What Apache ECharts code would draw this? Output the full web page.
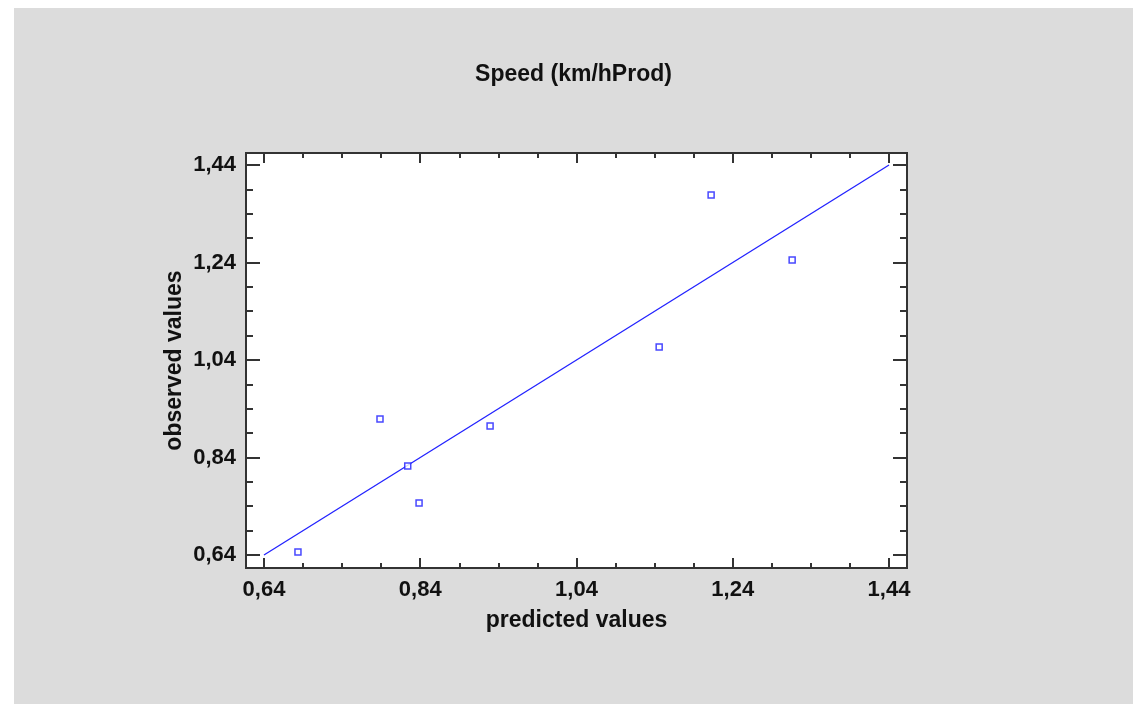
<!DOCTYPE html>
<html>
<head>
<meta charset="utf-8">
<script src="https://cdn.jsdelivr.net/npm/echarts@6/dist/echarts.min.js"></script>
<style>
  html, body {
    margin: 0;
    padding: 0;
    background: #fff;
  }
  #main {
    position: absolute;
    left: 14px;
    top: 8px;
    width: 1119px;
    height: 696px;
    background: #dcdcdc;
  }
</style>
</head>
<body>
<div id="main"></div>
<script>
// values
var predicted = [0.6835, 0.7885, 0.824, 0.8385, 0.9294, 1.1458, 1.2123, 1.316];
var observed = [0.646, 0.919, 0.8226, 0.7467, 0.9046, 1.0667, 1.3785, 1.2451];

// fitted line (observed = predicted)
var lineX = [0.64, 1.44];
var lineY = [0.64, 1.44];

var majorTicks = [0.64, 0.84, 1.04, 1.24, 1.44];
var minorTicks = [0.69, 0.74, 0.79, 0.89, 0.94, 0.99, 1.09, 1.14, 1.19, 1.29, 1.34, 1.39];

var points = predicted.map(function (x, i) { return [x, observed[i]]; });
var line = lineX.map(function (x, i) { return [x, lineY[i]]; });

var fmt = function (v) { return v.toFixed(2).replace(".", ","); };
var font = "Liberation Sans, Arial, sans-serif";
var tickColor = "#333";

function axis(kind, pos, ticks, len, withLabel) {
  var a = {
    type: "value",
    position: pos,
    min: kind === "x" ? 0.617 : 0.6133,
    max: kind === "x" ? 1.463 : 1.4646,
    axisLine: { show: false },
    splitLine: { show: false },
    axisTick: {
      show: true,
      inside: true,
      length: len,
      customValues: ticks,
      lineStyle: { color: tickColor, width: 2 }
    },
    axisLabel: { show: false }
  };
  if (withLabel) {
    a.axisLabel = {
      show: true,
      customValues: ticks,
      formatter: fmt,
      margin: kind === "x" ? 11 : 10,
      color: "#111",
      fontFamily: font,
      fontWeight: "bold",
      fontSize: 22
    };
    a.name = kind === "x" ? "predicted values" : "observed values";
    a.nameLocation = "middle";
    a.nameGap = kind === "x" ? 41 : 60;
    if (kind === "y") {
      a.nameMoveOverlap = false;
    }
    a.nameTextStyle = {
      color: "#111",
      fontFamily: font,
      fontWeight: "bold",
      fontSize: 23
    };
  }
  return a;
}

var chart = echarts.init(document.getElementById("main"));

chart.setOption({
  animation: false,
  title: {
    text: "Speed (km/hProd)",
    left: "center",
    top: 50,
    textStyle: {
      color: "#111",
      fontFamily: font,
      fontWeight: "bold",
      fontSize: 23
    }
  },
  grid: {
    left: 232,
    top: 145,
    right: 226,
    bottom: 136,
    show: true,
    backgroundColor: "#fff",
    borderColor: "#333",
    borderWidth: 2
  },
  xAxis: [
    axis("x", "bottom", majorTicks, 10, true),
    axis("x", "bottom", minorTicks, 5, false),
    axis("x", "top", majorTicks, 10, false),
    axis("x", "top", minorTicks, 5, false)
  ],
  yAxis: [
    axis("y", "left", majorTicks, 14, true),
    axis("y", "left", minorTicks, 7, false),
    axis("y", "right", majorTicks, 14, false),
    axis("y", "right", minorTicks, 7, false)
  ],
  series: [
    {
      name: "fit",
      type: "line",
      data: line,
      showSymbol: false,
      lineStyle: { color: "#2222ff", width: 1.3 },
      z: 2
    },
    {
      name: "observed",
      type: "scatter",
      data: points,
      symbol: "rect",
      symbolSize: 6,
      itemStyle: { color: "#fff", borderColor: "#1a1aff", borderWidth: 1.5 },
      z: 3
    }
  ]
});
</script>
</body>
</html>
